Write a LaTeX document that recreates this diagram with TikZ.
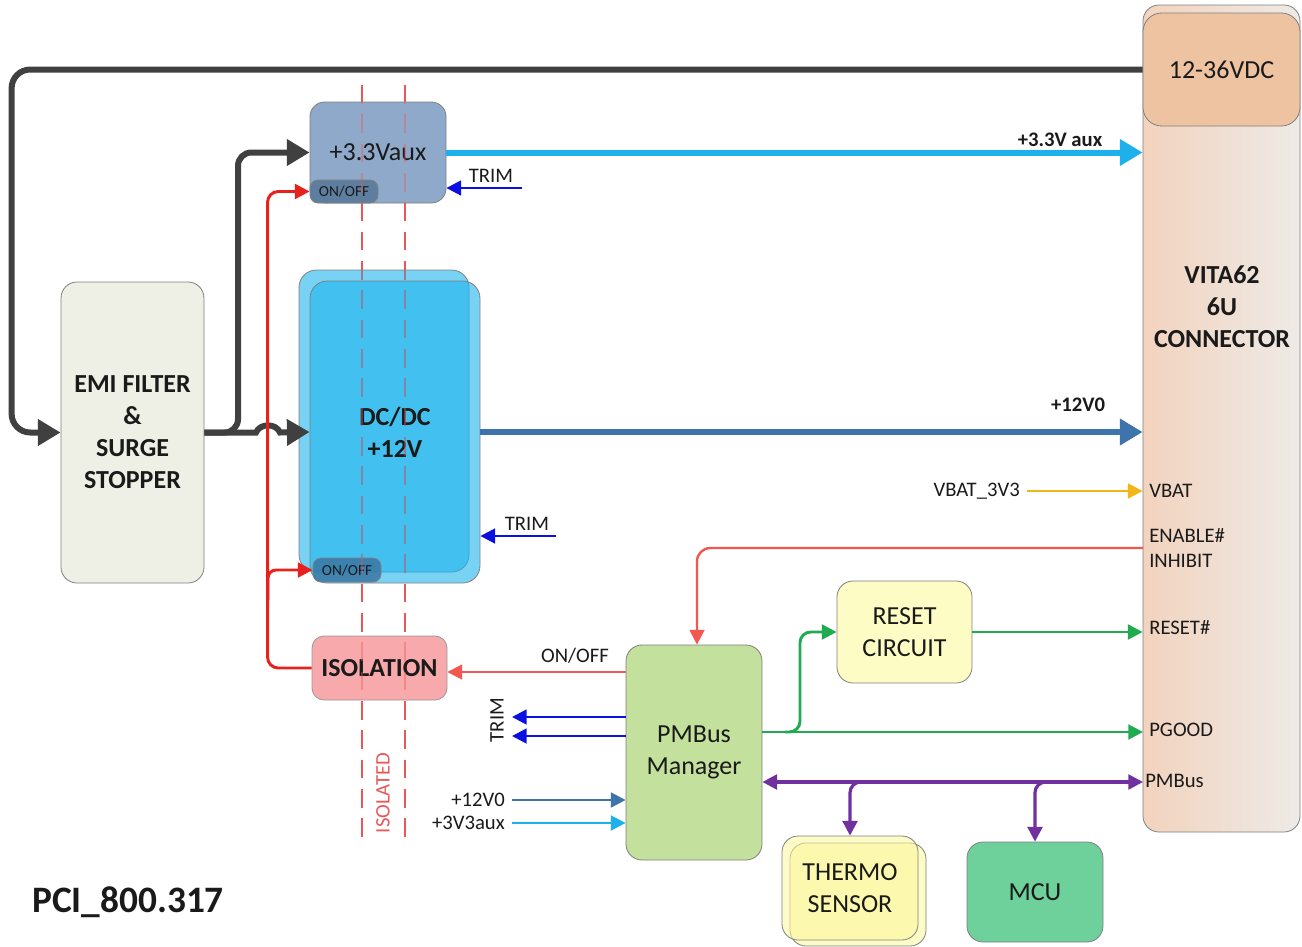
\documentclass[tikz,border=0pt]{standalone}
\usepackage{fontspec}
\setmainfont{Carlito}
\usetikzlibrary{arrows.meta,calc}
\definecolor{txt}{HTML}{1A1A1A}
\definecolor{connL}{HTML}{F2D3BE}
\definecolor{connR}{HTML}{EEEAE6}
\definecolor{vdcfill}{HTML}{EDC3A1}
\definecolor{emifill}{HTML}{EEEFE5}
\definecolor{auxfill}{HTML}{8EA9CA}
\definecolor{auxoofill}{HTML}{5E7E9F}
\definecolor{dcfill}{HTML}{1EB4EE}
\definecolor{dcoofill}{HTML}{3A76A3}
\definecolor{isofill}{HTML}{F8A9AB}
\definecolor{pmfill}{HTML}{C3E09D}
\definecolor{rstfill}{HTML}{FDFCC4}
\definecolor{thfill}{HTML}{FCF99A}
\definecolor{mcufill}{HTML}{6ED09B}
\definecolor{blackline}{HTML}{404040}
\definecolor{cyanline}{HTML}{1DB0EA}
\definecolor{steelline}{HTML}{3E74AB}
\definecolor{redline}{HTML}{E8201E}
\definecolor{salmon}{HTML}{F2584F}
\definecolor{greenline}{HTML}{20AB50}
\definecolor{purpleline}{HTML}{7030A0}
\definecolor{trimblue}{HTML}{0A10E0}
\definecolor{orangeline}{HTML}{F5B418}
\definecolor{dashred}{HTML}{E8585A}
\newcommand\drawblk[7]{\node[#6,minimum width={(#4-#2)*0.75pt},minimum height={(#5-#3)*0.75pt}] (#1) at ({(#2+#4)/2},{(#3+#5)/2}) {#7};}
\tikzset{
  BigTip/.tip={Triangle[length=17pt,width=19pt]},
  SmallTip/.tip={Triangle[length=11pt,width=11pt]},
  bx/.style={draw=black!50,line width=0.6pt,rounded corners=9pt,inner sep=0pt,align=center,text=txt,text opacity=1,font=\fontsize{19.5}{24}\selectfont},
  bxb/.style={bx,font=\fontsize{19.5}{24}\selectfont\bfseries},
  subbx/.style={bx,rounded corners=6pt,font=\fontsize{11.5}{13}\selectfont},
  lbl/.style={inner sep=0pt,text=txt,font=\fontsize{15.5}{19}\selectfont,align=left},
  lblb/.style={lbl,font=\fontsize{15.5}{19}\selectfont\bfseries},
  pwrblack/.style={draw=blackline,line width=4.5pt,-{BigTip}},
  pwrcyan/.style={draw=cyanline,line width=4.5pt,-{BigTip}},
  pwrsteel/.style={draw=steelline,line width=4.5pt,-{BigTip}},
  sigred/.style={draw=redline,line width=2.2pt,-{SmallTip},rounded corners=8pt},
  sigsalmon/.style={draw=salmon,line width=1.8pt,-{SmallTip},rounded corners=8pt},
  siggreen/.style={draw=greenline,line width=2.2pt,-{SmallTip},rounded corners=8pt},
  sigpurple/.style={draw=purpleline,line width=2.4pt,-{SmallTip},rounded corners=8pt},
  sigtrim/.style={draw=trimblue,line width=2pt,-{SmallTip}},
  sigsteel/.style={draw=steelline,line width=2pt,-{SmallTip}},
  sigcyan/.style={draw=cyanline,line width=2pt,-{SmallTip}},
  sigorange/.style={draw=orangeline,line width=2pt,-{SmallTip}},
  isoline/.style={draw=dashred,line width=1.6pt,dash pattern=on 14pt off 8pt},
  isolinetop/.style={isoline,draw opacity=0.4}
}
\begin{document}
\begin{tikzpicture}[x=0.75pt,y=-0.75pt]
\fill[white] (0,0) rectangle (1302,946);
\useasboundingbox (0,0) rectangle (1302,946);

% connector
\drawblk{conn}{1143}{5}{1300}{832}{bx,left color=connL,right color=connR,rounded corners=12pt}{}
\drawblk{vdc}{1143}{13}{1300}{126}{bx,fill=vdcfill,rounded corners=14pt}{12-36VDC}
\node[bxb,draw=none,fill=none] (conntitle) at (1222,307) {VITA62\\6U\\CONNECTOR};
\node[lbl,anchor=west] (lVBAT) at (1149,491) {VBAT};
\node[lbl,anchor=west] (lEN) at (1149,548) {ENABLE\#\\INHIBIT};
\node[lbl,anchor=west] (lRST) at (1149,628) {RESET\#};
\node[lbl,anchor=west] (lPG) at (1149,730) {PGOOD};
\node[lbl,anchor=west] (lPMB) at (1145,781) {PMBus};

% isolation barrier (base layer)
\draw[isoline] (362,85) -- (362,845);
\draw[isoline] (405,85) -- (405,845);
\node[lbl,text=dashred,rotate=90] (isolated) at (383,793) {ISOLATED};

% blocks
\drawblk{emi}{61}{282}{204}{583}{bxb,fill=emifill,rounded corners=12pt}{EMI FILTER\\\&\\SURGE\\STOPPER}
\drawblk{aux}{310}{102}{446}{203}{bx,fill=auxfill,rounded corners=11pt}{+3.3Vaux}
\drawblk{auxoo}{310}{180}{378}{203}{subbx,fill=auxoofill}{ON/OFF}
\drawblk{dcback}{299}{270}{469}{572}{bx,fill=dcfill,fill opacity=0.6,rounded corners=13pt}{}
\drawblk{dc}{310}{281}{480}{583}{bxb,fill=dcfill,fill opacity=0.6,rounded corners=13pt}{DC/DC\\+12V}
\drawblk{dcoo}{313}{558}{381}{582}{subbx,fill=dcoofill,fill opacity=0.85}{ON/OFF}
\drawblk{iso}{312}{636}{447}{700}{bxb,fill=isofill,draw=black!40}{ISOLATION}
\drawblk{pm}{626}{645}{762}{860}{bx,fill=pmfill,rounded corners=12pt}{PMBus\\Manager}
\drawblk{rst}{837}{581}{972}{683}{bx,fill=rstfill,rounded corners=12pt}{RESET\\CIRCUIT}
\drawblk{thfront}{790}{843}{926}{946}{bx,fill=thfill,fill opacity=0.55,rounded corners=12pt}{}
\drawblk{thermo}{782}{836}{918}{940}{bx,fill=thfill,fill opacity=0.55,rounded corners=12pt}{THERMO\\SENSOR}
\drawblk{mcu}{967}{842}{1103}{942}{bx,fill=mcufill,rounded corners=12pt}{MCU}

% isolation barrier (faint layer over the boxes)
\draw[isolinetop] (362,85) -- (362,845);
\draw[isolinetop] (405,85) -- (405,845);

% input power
\draw[pwrblack,rounded corners=14pt] (vdc.west) -| ($(emi.west)+(-49,0)$) -- (emi.west);
\draw[pwrblack,rounded corners=10pt] (emi.east) -| (238,152.5) -- (aux.west);
\draw[pwrblack] (emi.east) -- (256,432.5) .. controls (260,423) and (276,423) .. (280,432.5) -- (dc.west);

% outputs
\draw[pwrcyan] (aux.east) -- (conn.west |- aux.east);
\node[lblb,anchor=south] (l33) at (1060,147) {+3.3V aux};
\draw[pwrsteel] (dc.east) -- (conn.west |- dc.east);
\node[lblb,anchor=south] (l12) at (1078,412) {+12V0};

% trim into converters
\coordinate (tr1) at (522,188);
\draw[sigtrim] (tr1) -- (aux.east |- tr1);
\node[lbl,anchor=south] (ltr1) at (491,183) {TRIM};
\coordinate (tr2) at (556,536);
\draw[sigtrim] (tr2) -- (dc.east |- tr2);
\node[lbl,anchor=south] (ltr2) at (527,531) {TRIM};

% isolation control
\draw[sigred] (iso.west) -| ($(auxoo.west)+(-42,0)$) -- (auxoo.west);
\coordinate (rJ) at (268,600);
\draw[sigred,rounded corners=6pt] (rJ) |- (dcoo.west);
\coordinate (pOnOff) at (626,672);
\draw[sigsalmon] (pOnOff) -- (iso.east |- pOnOff);
\node[lbl,anchor=south] (lonoff) at (575,664) {ON/OFF};

% enable
\coordinate (cEn) at (1143,548);
\draw[sigsalmon,rounded corners=10pt] (cEn) -| ([xshift=2.25pt]pm.north);

% VBAT
\node[lbl,anchor=east] (lvbat3) at (1020,491) {VBAT\_3V3};
\draw[sigorange] ([xshift=5pt]lvbat3.east) -- (conn.west |- lvbat3.east);

% trim out of PMBus manager
\coordinate (t1) at (512,717);
\coordinate (t2) at (512,736);
\draw[sigtrim] (pm.west |- t1) -- (t1);
\draw[sigtrim] (pm.west |- t2) -- (t2);
\node[lbl,rotate=90] (ltrim3) at (497,720) {TRIM};

% monitored rails
\node[lbl,anchor=east] (l12b) at (505,800) {+12V0};
\node[lbl,anchor=east] (l33b) at (505,823) {+3V3aux};
\draw[sigsteel] ([xshift=5pt]l12b.east) -- (pm.west |- l12b.east);
\draw[sigcyan] ([xshift=5pt]l33b.east) -- (pm.west |- l33b.east);

% PGOOD / RESET
\coordinate (cPG) at (1143,732);
\draw[siggreen] (pm.east |- cPG) -- (cPG);
\coordinate (gJ) at (785,732);
\draw[siggreen] (gJ) -| (800,632) -- (rst.west);
\draw[siggreen] (rst.east) -- (conn.west |- rst.east);

% PMBus
\coordinate (cPM) at (1143,782);
\draw[sigpurple,{SmallTip}-{SmallTip}] (pm.east |- cPM) -- (cPM);
\coordinate (pJ1) at (875,782);
\coordinate (pJ2) at (1060,782);
\draw[sigpurple] (pJ1) -| (thermo.north);
\draw[sigpurple] (pJ2) -| (mcu.north);

% title
\node[inner sep=0pt,text=txt,font=\fontsize{28}{32}\selectfont\bfseries] (title) at (128,902) {PCI\_800.317};
\end{tikzpicture}
\end{document}
